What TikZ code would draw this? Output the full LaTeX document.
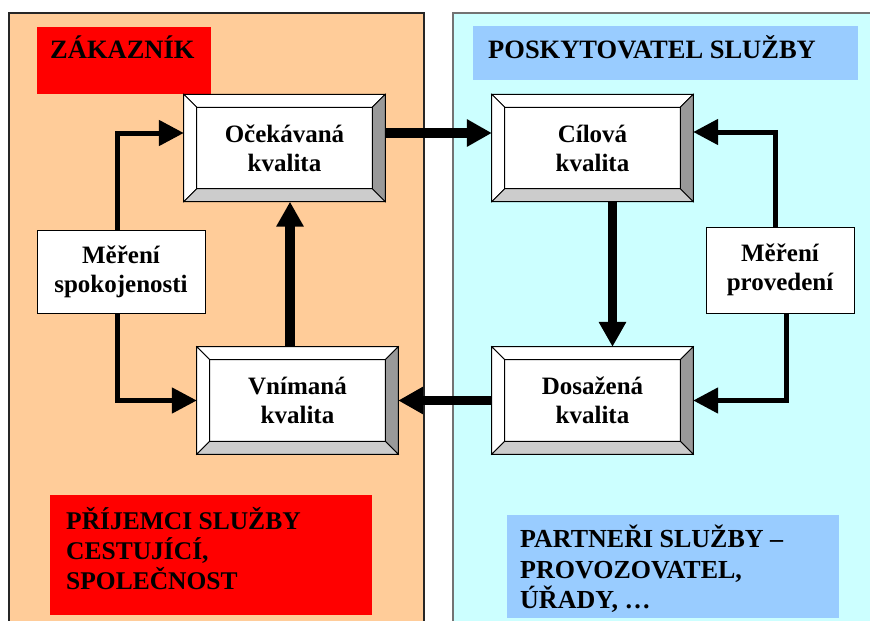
\documentclass[tikz,border=0pt]{standalone}
\usepackage{fontspec}
\setmainfont{Liberation Serif}
\usetikzlibrary{arrows.meta,calc}
\definecolor{peach}{HTML}{FFCC99}
\definecolor{lcyan}{HTML}{CCFFFF}
\definecolor{hblue}{HTML}{99CCFF}
\definecolor{dgray}{HTML}{999999}
\definecolor{lgray}{HTML}{CCCCCC}
\newcommand\bevelize[1]{%
  \coordinate (#1-A) at (#1.north west);
  \coordinate (#1-B) at (#1.north east);
  \coordinate (#1-C) at (#1.south east);
  \coordinate (#1-D) at (#1.south west);
  \coordinate (#1-a) at ($(#1.north west)+(13pt,-13pt)$);
  \coordinate (#1-b) at ($(#1.north east)+(-13pt,-13pt)$);
  \coordinate (#1-c) at ($(#1.south east)+(-13pt,13pt)$);
  \coordinate (#1-d) at ($(#1.south west)+(13pt,13pt)$);
  \filldraw[fill=white,draw=black,line width=0.8pt] (#1-A) -- (#1-B) -- (#1-b) -- (#1-a) -- cycle;
  \filldraw[fill=white,draw=black,line width=0.8pt] (#1-A) -- (#1-a) -- (#1-d) -- (#1-D) -- cycle;
  \filldraw[fill=dgray,draw=black,line width=0.8pt] (#1-B) -- (#1-C) -- (#1-c) -- (#1-b) -- cycle;
  \filldraw[fill=lgray,draw=black,line width=0.8pt] (#1-D) -- (#1-C) -- (#1-c) -- (#1-d) -- cycle;
  \draw[black,line width=1.2pt] (#1-a) rectangle (#1-c);
  \draw[black,line width=1pt] (#1-A) rectangle (#1-C);
}
\tikzset{
  txt/.style={font=\bfseries\fontsize{25}{29}\selectfont},
  bevel/.style={txt,draw=black,fill=white,inner sep=0pt,align=center,
    minimum width=201,minimum height=107},
  measure/.style={txt,draw=black,line width=1pt,fill=white,inner sep=0pt,align=center},
  label/.style={txt,anchor=north west,align=left,inner sep=0pt},
  bigarrow/.style={line width=9.5pt,-{Triangle[length=25pt,width=26pt]}},
  loop/.style={line width=5pt,line join=miter,-{Triangle[length=25pt,width=25pt]}},
}
\begin{document}
\begin{tikzpicture}[x=1pt,y=-1pt]
\useasboundingbox (0,0) rectangle (870,621);
\fill[white] (0,0) rectangle (870,621);
% panels
\filldraw[fill=peach,draw=black!85,line width=1.2pt] (9,13) rectangle (424,640);
\filldraw[fill=lcyan,draw=black!55,line width=1.2pt] (453,13) rectangle (890,640);
% header boxes
\fill[red] (37,27) rectangle (211,94);
\node[label,font=\bfseries\fontsize{26.5}{30}\selectfont] (hz) at (50,36) {ZÁKAZNÍK};
\fill[hblue] (473,26) rectangle (858,80);
\node[label,font=\bfseries\fontsize{26.5}{30}\selectfont] (hp) at (488,35) {POSKYTOVATEL SLUŽBY};
\fill[red] (50,495) rectangle (372,615);
\node[label,font=\bfseries\fontsize{25.5}{30}\selectfont] (hr) at (66,507) {PŘÍJEMCI SLUŽBY\\CESTUJÍCÍ,\\SPOLEČNOST};
\fill[hblue] (507,515) rectangle (839,618);
\node[label,font=\bfseries\fontsize{26}{30.5}\selectfont] (hpa) at (520,525) {PARTNEŘI SLUŽBY –\\PROVOZOVATEL,\\ÚŘADY, …};
% quality boxes
\node[bevel] (oce) at (284.5,148) {Očekávaná\\kvalita};
\node[bevel] (cil) at (592.5,148) {Cílová\\kvalita};
\node[bevel] (vni) at (297.5,400.5) {Vnímaná\\kvalita};
\node[bevel] (dos) at (592.5,400.5) {Dosažená\\kvalita};
\bevelize{oce}\bevelize{cil}\bevelize{vni}\bevelize{dos}
% measurement boxes
\node[measure,minimum width=168,minimum height=83] (msp) at (121,271.5) {Měření\\spokojenosti};
\node[measure,minimum width=148,minimum height=86] (mpr) at (780,270) {Měření\\provedení};
% main arrows
\draw[bigarrow] ([yshift=15pt]oce.east) -- ([yshift=15pt]cil.west);
\draw[bigarrow] ([xshift=20pt]cil.south) -- ([xshift=20pt]dos.north);
\draw[bigarrow] (dos.west) -- (vni.east);
\draw[bigarrow] ([xshift=-7.5pt]vni.north) -- ([xshift=-7.5pt]vni.north |- oce.south);
% measurement loops
\draw[loop] ([xshift=-4pt]msp.north) |- ([yshift=15pt]oce.west);
\draw[loop] ([xshift=-4pt]msp.south) |- (vni.west);
\draw[loop] ([xshift=-5pt]mpr.north) |- ([yshift=16pt]cil.east);
\draw[loop] ([xshift=6pt]mpr.south) |- (dos.east);
\end{tikzpicture}
\end{document}
